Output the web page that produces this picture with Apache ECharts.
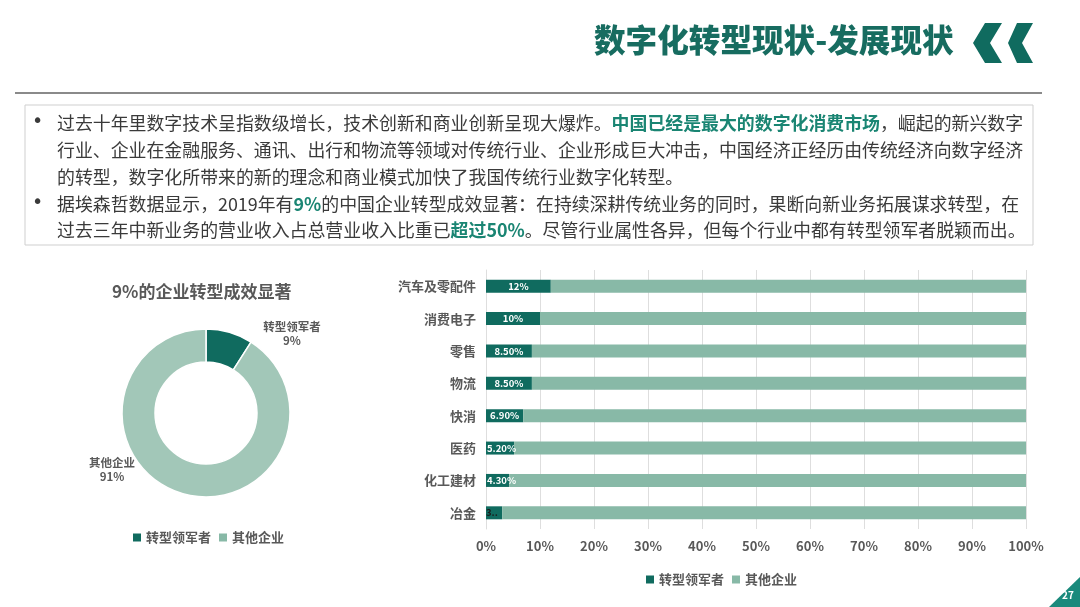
<!DOCTYPE html>
<html>
<head>
<meta charset="utf-8">
<script src="https://cdn.jsdelivr.net/npm/echarts@6/dist/echarts.min.js"></script>
<style>
html,body{margin:0;padding:0;background:#fff;}
#c{width:1080px;height:607px;}
</style>
</head>
<body>
<div id="c"></div>
<script>
// ---- data ----
const pieNames = ['转型领军者', '其他企业'];
const pieValues = [9, 91];
const categories = ['汽车及零配件', '消费电子', '零售', '物流', '快消', '医药', '化工建材', '冶金'];
const leaderValues = [12, 10, 8.5, 8.5, 6.9, 5.2, 4.3, 3];
const otherValues = [88, 90, 91.5, 91.5, 93.1, 94.8, 95.7, 97];
const leaderLabels = ['12%', '10%', '8.50%', '8.50%', '6.90%', '5.20%', '4.30%', '3.00%'];
const xTicks = ['0%', '10%', '20%', '30%', '40%', '50%', '60%', '70%', '80%', '90%', '100%'];

const DARK = '#106b5f';
const LIGHT_BAR = '#88b9a7';
const LIGHT_PIE = '#a2c7b8';
const GRAY = '#595959';
const FONT = '"Noto Sans CJK SC", "Noto Sans", sans-serif';
const TXT = '#3a3a3a';
const HI = '#1a8573';

const fs = 17.9;
const rich = {
  n: {fontSize: fs, fontFamily: FONT, fill: TXT, color: TXT},
  h: {fontSize: fs, fontFamily: FONT, fontWeight: 'bold', fill: HI, color: HI}
};
function line(y, text) {
  return {type: 'text', left: 57, top: y - 10, style: {text: text, rich: rich, font: fs + 'px ' + FONT, fill: TXT}};
}
function bullet(y) {
  return {type: 'text', left: 32, top: y - 11, style: {text: '•', font: '19px "DejaVu Sans", sans-serif', fill: TXT}};
}

const chart = echarts.init(document.getElementById('c'));
chart.setOption({
  backgroundColor: '#fff',
  animation: false,
  graphic: [
    {type: 'text', left: 594, top: 24, style: {text: '数字化转型现状-发展现状', font: '900 31.6px ' + FONT, fill: '#176c60'}},
    {type: 'polygon', shape: {points: [[985,23],[1002,23],[990,43],[1002,63],[985,63],[973,43]]}, style: {fill: DARK}},
    {type: 'polygon', shape: {points: [[1017,23],[1033,23],[1022,43],[1033,63],[1017,63],[1008,43]]}, style: {fill: DARK}},
    {type: 'line', shape: {x1: 15, y1: 93, x2: 1042, y2: 93}, style: {stroke: '#8a8a8a', lineWidth: 2}},
    {type: 'rect', shape: {x: 25, y: 105, width: 1008, height: 140}, style: {fill: 'none', stroke: '#cfcfcf', lineWidth: 1}},
    bullet(124), bullet(205),
    line(124, '{n|过去十年里数字技术呈指数级增长，技术创新和商业创新呈现大爆炸。}{h|中国已经是最大的数字化消费市场}{n|，崛起的新兴数字}'),
    line(151, '{n|行业、企业在金融服务、通讯、出行和物流等领域对传统行业、企业形成巨大冲击，中国经济正经历由传统经济向数字经济}'),
    line(178, '{n|的转型，数字化所带来的新的理念和商业模式加快了我国传统行业数字化转型。}'),
    line(205, '{n|据埃森哲数据显示，2019年有}{h|9%}{n|的中国企业转型成效显著：在持续深耕传统业务的同时，果断向新业务拓展谋求转型，在}'),
    line(231, '{n|过去三年中新业务的营业收入占总营业收入比重已}{h|超过50%}{n|。尽管行业属性各异，但每个行业中都有转型领军者脱颖而出。}'),
    {type: 'text', top: 283, left: 112, style: {text: '9%的企业转型成效显著', font: 'bold 17px ' + FONT, fill: GRAY}},
    {type: 'polygon', shape: {points: [[1049,607],[1080,607],[1080,577]]}, style: {fill: '#1a8a7c'}},
    {type: 'text', left: 1062, top: 590, style: {text: '27', font: 'bold 10px ' + FONT, fill: '#fff'}}
  ],
  legend: [
    {
      data: pieNames, left: 128, top: 526, itemWidth: 8, itemHeight: 8, itemGap: 8,
      icon: 'rect', textStyle: {fontFamily: FONT, fontSize: 13, fontWeight: 'bold', color: GRAY},
      selectedMode: false
    },
    {
      data: pieNames, left: 641, top: 568, itemWidth: 8, itemHeight: 8, itemGap: 8,
      icon: 'rect', textStyle: {fontFamily: FONT, fontSize: 13, fontWeight: 'bold', color: GRAY},
      selectedMode: false
    }
  ],
  grid: {left: 486, right: 54, top: 270, bottom: 78, containLabel: false},
  xAxis: {
    type: 'value', min: 0, max: 100, interval: 10,
    axisLabel: {formatter: function (v) { return xTicks[Math.round(v / 10)]; }, fontFamily: FONT, fontSize: 13, fontWeight: 'bold', color: GRAY, margin: 11},
    splitLine: {show: true, lineStyle: {color: '#dedede', width: 1}},
    axisLine: {show: false}, axisTick: {show: false}
  },
  yAxis: {
    type: 'category', data: categories, inverse: true,
    axisLabel: {fontFamily: FONT, fontSize: 13, fontWeight: 'bold', color: GRAY, margin: 10},
    axisLine: {show: true, lineStyle: {color: '#dedede'}}, axisTick: {show: false}
  },
  series: [
    {
      type: 'pie', center: [206, 413], radius: [51, 84], startAngle: 90, clockwise: true,
      itemStyle: {borderColor: '#fff', borderWidth: 1.5},
      label: {show: true, position: 'outside', formatter: '{b}\n{c}%', fontFamily: FONT, fontSize: 11.5, fontWeight: 'bold', color: GRAY, lineHeight: 14, align: 'center'},
      labelLine: {show: false},
      labelLayout: function (p) {
        return p.dataIndex === 0 ? {x: 292, y: 334, align: 'center', verticalAlign: 'middle'} : {x: 112, y: 470, align: 'center', verticalAlign: 'middle'};
      },
      data: [
        {name: pieNames[0], value: pieValues[0], itemStyle: {color: DARK}},
        {name: pieNames[1], value: pieValues[1], itemStyle: {color: LIGHT_PIE}}
      ]
    },
    {
      name: pieNames[0], type: 'bar', stack: 't', barWidth: 13,
      itemStyle: {color: DARK},
      label: {show: true, position: 'inside', formatter: function (p) { return leaderLabels[p.dataIndex]; }, color: '#fff', fontFamily: FONT, fontSize: 9.5, fontWeight: 'bold'},
      data: leaderValues.map(function (v, i) {
        if (i === leaderValues.length - 1) {
          return {value: v, label: {color: '#1a1a1a', width: 15, overflow: 'truncate', ellipsis: '..', position: 'insideLeft', distance: 0}};
        }
        if (v < 6) {
          return {value: v, label: {position: 'insideLeft', distance: 1}};
        }
        return v;
      })
    },
    {
      name: pieNames[1], type: 'bar', stack: 't', barWidth: 13,
      itemStyle: {color: LIGHT_BAR},
      data: otherValues
    }
  ]
});
</script>
</body>
</html>
